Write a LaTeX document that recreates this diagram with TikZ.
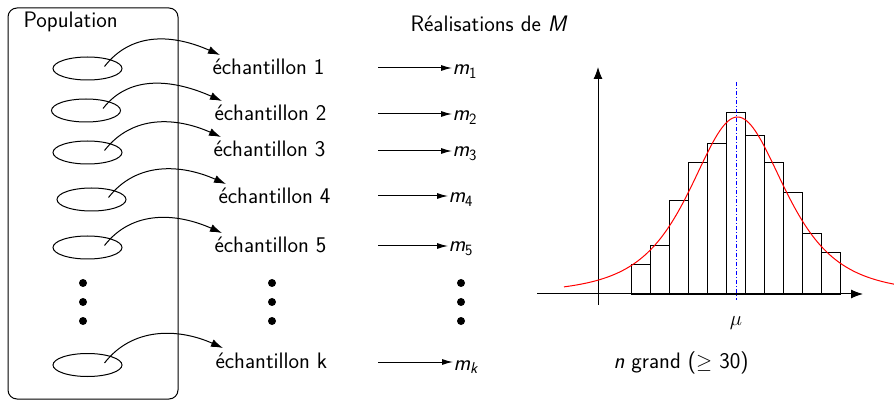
\documentclass[tikz,border=0pt]{standalone}
\usepackage{fontspec}
\usetikzlibrary{arrows.meta,calc,shapes.geometric}
\begin{document}
\begin{tikzpicture}[x=1pt,y=-1pt,line width=1pt,
  txt/.style={font=\sffamily\fontsize{22.4}{26}\selectfont, inner sep=0pt, anchor=base west},
  ell/.style={draw, ellipse, minimum width=69pt, minimum height=23pt, inner sep=0pt},
  carrow/.style={-{Latex[length=12pt,width=8pt]}},
  sarrow/.style={-{Latex[length=11pt,width=6pt]}},
  axarrow/.style={-{Latex[length=12pt,width=9pt]}},
  dotm/.style={fill=black, circle, minimum size=8pt, inner sep=0pt}]
\useasboundingbox (0,0) rectangle (894,403);
% population frame
\draw[rounded corners=9pt] (8,8) rectangle (178,399);
\node[txt] (pop) at (23,28) {Population};
\node[txt] (real) at (410,32) {Réalisations de \textit{M}};
% ellipses
\node[ell] (e1) at (87.5,68.5) {};
\node[ell] (e2) at (86,110.5) {};
\node[ell] (e3) at (87.5,152.5) {};
\node[ell] (e4) at (91.5,199.5) {};
\node[ell] (e5) at (87.5,247.5) {};
\node[ell] (ek) at (87.5,365) {};
% sample texts
\node[txt] (t1) at (212,75) {échantillon 1};
\node[txt] (t2) at (214,121) {échantillon 2};
\node[txt] (t3) at (213,157) {échantillon 3};
\node[txt] (t4) at (218,204) {échantillon 4};
\node[txt] (t5) at (214,253) {échantillon 5};
\node[txt] (tk) at (215,368) {échantillon k};
% curved arrows
\foreach \e/\t in {e1/t1,e2/t2,e3/t3,e4/t4,e5/t5,ek/tk}{
  \draw[carrow] ($(\e.center)+(17,-2)$) .. controls +(28,-36) and +(-45,-20) .. ($(\t.base west)+(8,-20)$);
}
% m labels
\node[txt] (m1) at (452,75) {\textit{m}\textsubscript{1}};
\node[txt] (m2) at (452,121) {\textit{m}\textsubscript{2}};
\node[txt] (m3) at (452,157) {\textit{m}\textsubscript{3}};
\node[txt] (m4) at (448,203) {\textit{m}\textsubscript{4}};
\node[txt] (m5) at (448,252) {\textit{m}\textsubscript{5}};
\node[txt] (mk) at (453,370) {\textit{m}\textsubscript{\textit{k}}};
\foreach \m/\y in {m1/68,m2/114,m3/151,m4/196,m5/246,mk/362}{
  \coordinate (s\m) at (378,\y);
  \draw[sarrow] (s\m) -- (s\m -| \m.west);
}
% dots
\foreach \x/\n in {83/a,272/b,461/c}{
  \node[dotm] (\n1) at (\x,283) {};
  \node[dotm] (\n2) at (\x,302) {};
  \node[dotm] (\n3) at (\x,321) {};
}
% histogram
\foreach \i/\h in {0/264,1/245,2/200,3/162.3,4/143.3,5/112.7,6/135.7,7/162.3,8/192.3,9/233.3,10/252.3}{
  \draw[line width=0.9pt] ({631.7+19*\i},294) rectangle ({650.7+19*\i},\h);
}
\coordinate (xs) at (537,294);
\coordinate (xe) at (863,294);
\coordinate (ys) at (598,305);
\coordinate (ye) at (598,67);
\draw[axarrow] (xs) -- (xe);
\draw[axarrow] (ys) -- (ye);
\draw[blue, line width=0.9pt, dash pattern=on 4pt off 2pt on 1pt off 2pt] (736.7,82) -- (736.7,300);
\draw[red, line width=1pt] plot[domain=564:894, samples=160, smooth] (\x,{294-177/(1+((\x-737.5)/50.2)^2/3)^2});
\node[font=\fontsize{22.4}{26}\selectfont, inner sep=0pt, anchor=base] (mu) at (736,325) {$\mu$};
\node[txt] (ng) at (613,368) {\textit{n} grand ($\geq$ 30)};
\end{tikzpicture}
\end{document}
